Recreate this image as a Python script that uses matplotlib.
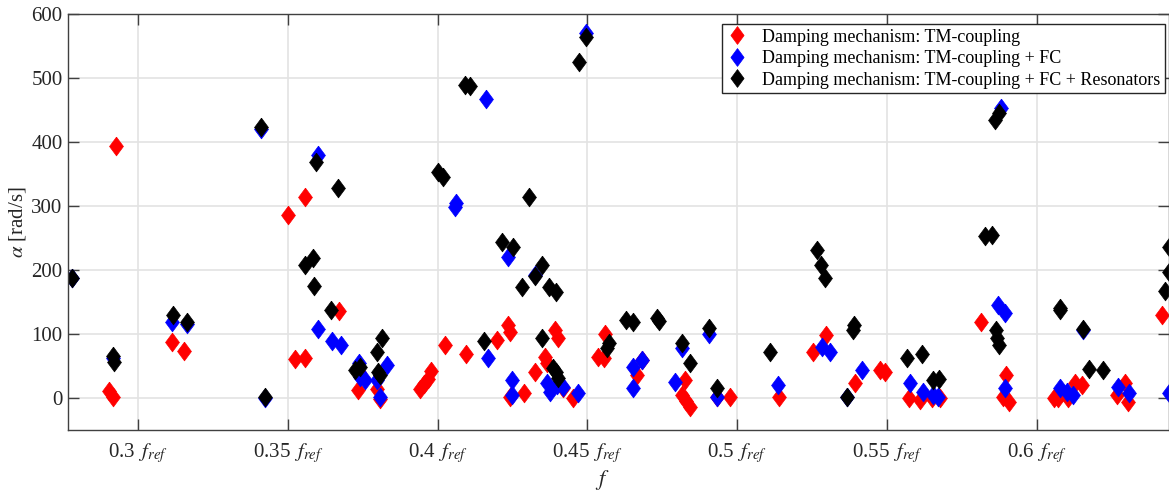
#!/usr/bin/env python3
# Damping rate alpha vs. normalised frequency for three damping mechanisms
import matplotlib
matplotlib.use("Agg")
import matplotlib.pyplot as plt

# --- data ---
f_tm = [0.2903, 0.2917, 0.2927, 0.3113, 0.3154, 0.3501, 0.3557, 0.3524, 0.3557, 0.3671,
        0.3734, 0.3738, 0.3798, 0.3808, 0.3941, 0.3955, 0.3968, 0.3978, 0.4025, 0.4095,
        0.4198, 0.4235, 0.4242, 0.4242, 0.4288, 0.4325, 0.4359, 0.4365, 0.4392, 0.4402,
        0.4419, 0.4452, 0.4535, 0.4555, 0.4559, 0.4665, 0.4682, 0.4816, 0.4826, 0.4843,
        0.4830, 0.4933, 0.4976, 0.5140, 0.5253, 0.5296, 0.5393, 0.5477, 0.5493, 0.5574,
        0.5610, 0.5650, 0.5677, 0.5814, 0.5897, 0.5887, 0.5907, 0.6057, 0.6070, 0.6104,
        0.6127, 0.6151, 0.6268, 0.6294, 0.6304, 0.6418]
a_tm = [11, 1, 394, 87, 73, 286, 314, 61, 63, 136,
        12, 40, 14, -2, 14, 22, 30, 42, 83, 69,
        91, 114, 103, 2, 8, 41, 64, 55, 106, 94,
        16, 0, 64, 62, 100, 36, 59, 5, 28, -14,
        -5, 2, 2, 2, 72, 98, 23, 44, 41, 0,
        -3, 0, 0, 119, 36, 2, -6, 0, 0, 0,
        23, 20, 5, 23, -6, 130]

f_fc = [0.2780, 0.2917, 0.3113, 0.3164, 0.3411, 0.3424, 0.3601, 0.3601, 0.3648, 0.3678,
        0.3738, 0.3741, 0.3757, 0.3798, 0.3808, 0.3831, 0.4058, 0.4061, 0.4162, 0.4168,
        0.4235, 0.4248, 0.4248, 0.4325, 0.4365, 0.4375, 0.4399, 0.4419, 0.4469, 0.4495,
        0.4652, 0.4682, 0.4652, 0.4792, 0.4816, 0.4906, 0.4933, 0.5136, 0.5283, 0.5310,
        0.5367, 0.5417, 0.5577, 0.5620, 0.5654, 0.5670, 0.5871, 0.5894, 0.5894, 0.5881,
        0.6077, 0.6101, 0.6121, 0.6154, 0.6271, 0.6308, 0.6440]
a_fc = [187, 63, 119, 116, 420, 0, 380, 108, 89, 83,
        55, 33, 28, 28, 2, 52, 298, 305, 467, 62,
        220, 28, 5, 192, 23, 9, 20, 17, 8, 570,
        48, 59, 16, 25, 78, 100, 2, 20, 80, 72,
        1, 44, 23, 9, 5, 2, 145, 133, 16, 453,
        16, 9, 5, 106, 17, 8, 8]

f_res = [0.2780, 0.2917, 0.2920, 0.3117, 0.3164, 0.3411, 0.3424, 0.3557, 0.3584, 0.3587,
         0.3594, 0.3668, 0.3644, 0.3724, 0.3741, 0.3798, 0.3814, 0.3801, 0.3808, 0.4000,
         0.4017, 0.4091, 0.4108, 0.4155, 0.4215, 0.4252, 0.4282, 0.4305, 0.4348, 0.4325,
         0.4372, 0.4395, 0.4348, 0.4385, 0.4402, 0.4395, 0.4472, 0.4495, 0.4629, 0.4652,
         0.4732, 0.4738, 0.4572, 0.4566, 0.4816, 0.4843, 0.4906, 0.4933, 0.5110, 0.5266,
         0.5280, 0.5293, 0.5367, 0.5390, 0.5387, 0.5567, 0.5617, 0.5654, 0.5674, 0.5827,
         0.5851, 0.5861, 0.5874, 0.5864, 0.5867, 0.5874, 0.6077, 0.6077, 0.6154, 0.6174,
         0.6221, 0.6428, 0.6440, 0.6440]
a_res = [188, 66, 57, 129, 119, 424, 1, 208, 218, 175,
         369, 328, 137, 44, 48, 72, 93, 41, 36, 353,
         345, 489, 488, 89, 244, 236, 174, 314, 208, 190,
         174, 166, 94, 47, 31, 40, 525, 564, 122, 119,
         125, 121, 86, 78, 86, 55, 109, 16, 72, 231,
         208, 188, 2, 114, 106, 62, 69, 28, 30, 253,
         255, 434, 445, 106, 94, 83, 141, 137, 108, 45,
         44, 167, 236, 197]

labels = ["Damping mechanism: TM-coupling",
          "Damping mechanism: TM-coupling + FC",
          "Damping mechanism: TM-coupling + FC + Resonators"]
x_ticks = [0.3, 0.35, 0.4, 0.45, 0.5, 0.55, 0.6]
x_ticklabels = [f"{t:g} " + r"$\,f_{ref}$" for t in x_ticks]
y_ticks = [0, 100, 200, 300, 400, 500, 600]

# --- style ---
plt.rcParams.update({
    "font.family": ["Liberation Serif", "DejaVu Serif"],
    "mathtext.fontset": "stix",
    "font.size": 15,
})
axis_col = "#404040"
diamond = [(0, 1), (0.74, 0), (0, -1), (-0.74, 0), (0, 1)]

fig = plt.figure(figsize=(11.69, 4.95), dpi=100)
ax = fig.add_axes([68/1169, 1 - 430/495, 1100.5/1169, 416/495])

kw = dict(linestyle="none", marker=diamond, markersize=13.5, markeredgewidth=0.5)
ax.plot(f_tm, a_tm, color="#ff0000", label=labels[0], **kw)
ax.plot(f_fc, a_fc, color="#0000ff", label=labels[1], **kw)
ax.plot(f_res, a_res, color="#000000", label=labels[2], **kw)

ax.set_xlim(0.2766, 0.6440)
ax.set_ylim(-50, 600)
ax.set_xticks(x_ticks)
ax.set_xticklabels(x_ticklabels)
ax.set_yticks(y_ticks)

ax.grid(True, color="#e3e3e3", linewidth=1.2)
ax.set_axisbelow(True)
ax.tick_params(direction="in", length=8, width=1.0, color=axis_col,
               top=True, right=True, labelcolor="#262626", labelsize=15)
ax.tick_params(axis="x", pad=8)
ax.tick_params(axis="y", pad=4)
for s in ax.spines.values():
    s.set_color(axis_col)
    s.set_linewidth(1.0)

ax.set_xlabel(r"$f$", fontsize=16, color="#262626")
ax.xaxis.set_label_coords((602 - 68) / 1100.5, -0.092)
ax.set_ylabel(r"$\alpha$ [rad/s]", fontsize=15, color="#262626")
ax.yaxis.set_label_coords(-0.036, 0.5)

leg = ax.legend(loc="upper right", bbox_to_anchor=(1097/1100.5, 1 - 10/416),
                borderaxespad=0, fancybox=False, framealpha=1, edgecolor="#262626",
                fontsize=13, handlelength=1.2, handletextpad=0.8, borderpad=0.25,
                labelspacing=0.25, markerscale=0.95)
leg.get_frame().set_linewidth(1.0)

fig.savefig("out.png", dpi=100)
